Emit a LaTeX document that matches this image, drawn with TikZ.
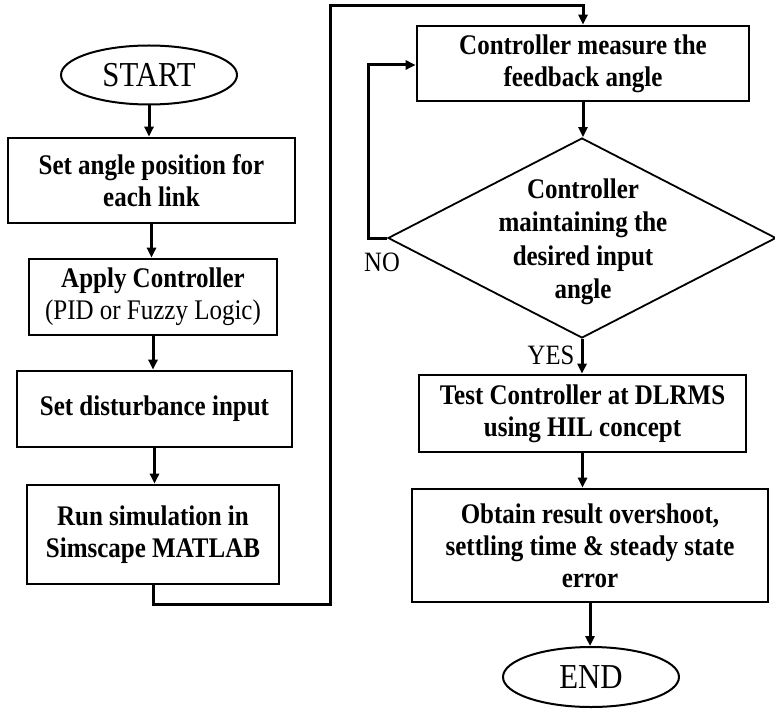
\documentclass[tikz,border=0pt]{standalone}
\usepackage{fontspec}
\setmainfont[FakeStretch=0.88]{Liberation Serif}
\usetikzlibrary{shapes.geometric,arrows.meta}
\begin{document}
\begin{tikzpicture}[x=1pt,y=-1pt,
  procbox/.style={draw,line width=2.6pt,inner sep=0pt,align=center,font=\fontsize{28.4}{32}\selectfont\bfseries},
  termin/.style={draw,ellipse,line width=2pt,inner sep=0pt,font=\fontsize{35}{38}\selectfont},
  conn/.style={line width=3pt,-{Triangle[width=9pt,length=10pt]}},
  lbl/.style={font=\fontsize{28}{30}\selectfont,inner sep=0pt}]
\useasboundingbox (0,0) rectangle (775,711);
\node[termin,minimum width=176,minimum height=59] (start) at (149,75) {START};
\node[procbox,minimum width=287,minimum height=85] (b1) at (151.5,180.5) {Set angle position for\\each link};
\node[procbox,minimum width=248,minimum height=76] (b2) at (153,297) {Apply Controller\\\mdseries(PID or Fuzzy Logic)};
\node[procbox,minimum width=275,minimum height=76] (b3) at (154.5,409) {Set disturbance input};
\node[procbox,minimum width=252,minimum height=99] (b4) at (153,534.5) {Run simulation in\\Simscape MATLAB};
\node[procbox,minimum width=332,minimum height=75] (b5) at (583,63.5) {Controller measure the\\feedback angle};
\node[diamond,draw,line width=1.8pt,minimum width=388,minimum height=200,inner sep=0pt] (dec) at (582,238) {};
\node[align=center,inner sep=0pt,font=\fontsize{28.4}{33.5}\selectfont\bfseries] (dectext) at (583,242) {Controller\\maintaining the\\desired input\\angle};
\node[procbox,minimum width=327,minimum height=77] (b6) at (582.5,413.5) {Test Controller at DLRMS\\using HIL concept};
\node[procbox,minimum width=356,minimum height=113] (b7) at (590,545.5) {Obtain result overshoot,\\settling time \& steady state\\error};
\node[termin,minimum width=176,minimum height=60] (end) at (591,677) {END};
\node[lbl] (no) at (382,262) {NO};
\node[lbl] (yes) at (551,355) {YES};
\coordinate (c1) at (153,604);
\coordinate (c2) at (330,604);
\coordinate (c3) at (330,6);
\coordinate (c4) at (583,6);
\coordinate (n1) at (368,238);
\coordinate (n2) at (368,65);
\draw[conn] (start.south) -- (start.south |- b1.north);
\draw[conn] (b1.south) -- (b1.south |- b2.north);
\draw[conn] (b2.south) -- (b2.south |- b3.north);
\draw[conn] (b3.south) -- (b3.south |- b4.north);
\draw[conn] (b4.south) -- (c1) -- (c2) -- (c3) -- (c4) -- (b5.north);
\draw[conn] (b5.south) -- (b5.south |- dec.north);
\draw[conn] (dec.west) -- (n1) -- (n2) -- (n2 -| b5.west);
\draw[conn] (dec.south) -- (dec.south |- b6.north);
\draw[conn] (b6.south) -- (b6.south |- b7.north);
\draw[conn] (b7.south) -- (b7.south |- end.north);
\end{tikzpicture}
\end{document}
